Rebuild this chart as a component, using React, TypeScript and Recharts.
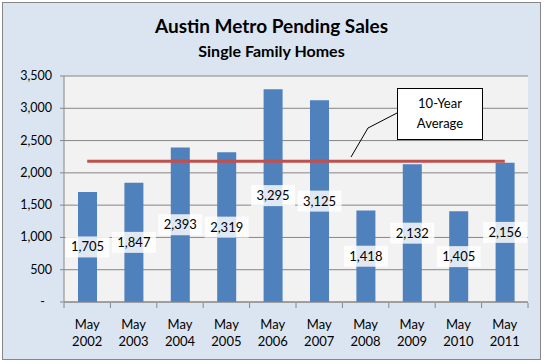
import React from "react"
import { BarChart, Bar, XAxis, YAxis, CartesianGrid, ReferenceLine, LabelList } from "recharts"

const months = ["May 2002", "May 2003", "May 2004", "May 2005", "May 2006", "May 2007", "May 2008", "May 2009", "May 2010", "May 2011"]
const pendingSales = [1705, 1847, 2393, 2319, 3295, 3125, 1418, 2132, 1405, 2156]
const yTicks = [0, 500, 1000, 1500, 2000, 2500, 3000, 3500]

const data = months.map((month, i) => ({ month, sales: pendingSales[i] }))
const average = pendingSales.reduce((a, b) => a + b, 0) / pendingSales.length

const FONT = "Lato, 'Open Sans', sans-serif"
const GRID = "#868686"

function XTick(props: any) {
  const { x, y, payload, index, width, visibleTicksCount } = props
  const [m, yr] = String(payload.value).split(" ")
  const step = width / visibleTicksCount
  const axisY = y - 7
  return (
    <g>
      <line x1={x - step / 2} x2={x - step / 2} y1={axisY} y2={axisY + 5} stroke={GRID} />
      {index === visibleTicksCount - 1 && (
        <line x1={x + step / 2} x2={x + step / 2} y1={axisY} y2={axisY + 5} stroke={GRID} />
      )}
      <text x={x} y={axisY + 26} textAnchor="middle" fontSize={13} fontFamily={FONT} fill="#000">{m}</text>
      <text x={x} y={axisY + 43} textAnchor="middle" fontSize={13} fontFamily={FONT} fill="#000">{yr}</text>
    </g>
  )
}

function YTick(props: any) {
  const { x, y, payload } = props
  const v = payload.value as number
  if (v === 0) {
    return <text x={x - 7} y={y + 4} textAnchor="end" fontSize={12.5} fontFamily={FONT} fill="#000">-</text>
  }
  return (
    <text x={x} y={y + 4} textAnchor="end" fontSize={12.5} fontFamily={FONT} fill="#000">
      {v.toLocaleString("en-US")}
    </text>
  )
}

function ValueLabel(props: any) {
  const { x, y, width, height, value } = props
  const cx = x + width / 2
  const cy = y + height / 2
  return (
    <g>
      <rect x={cx - 22} y={cy - 10.5} width={44} height={21} fill="#fff" fillOpacity={0.82} />
      <text x={cx} y={cy + 4.5} textAnchor="middle" fontSize={13} fontFamily={FONT} fill="#000">
        {Number(value).toLocaleString("en-US")}
      </text>
    </g>
  )
}

function AvgLine(props: any) {
  const { x1, x2, y1 } = props
  const half = (x2 - x1) / months.length / 2
  return <line x1={x1 + half} x2={x2 - half} y1={y1} y2={y1} stroke="#c0504d" strokeWidth={3} />
}

export default function App() {
  return (
    <div style={{ position: "absolute", left: 0, top: 0, width: 545, height: 364, background: "#fff", fontFamily: FONT }}>
      <div
        style={{
          position: "absolute",
          left: 2,
          top: 2,
          width: 537,
          height: 356,
          border: "1px solid #868686",
          background: "#dbe5f1",
        }}
      />
      <div style={{ position: "absolute", left: 0, top: 14, width: 543, textAlign: "center", fontWeight: 700, fontSize: 19, color: "#000" }}>
        Austin Metro Pending Sales
      </div>
      <div style={{ position: "absolute", left: 0, top: 41, width: 543, textAlign: "center", fontWeight: 700, fontSize: 16, color: "#000" }}>
        Single Family Homes
      </div>
      <div style={{ position: "absolute", left: 0, top: 0 }}>
        <BarChart width={545} height={364} data={data} margin={{ top: 76, right: 17, bottom: 0, left: 0 }} barCategoryGap="29%">
          <CartesianGrid vertical={false} stroke={GRID} fill="#f2f2f2" />
          <XAxis
            dataKey="month"
            height={62}
            interval={0}
            tickLine={false}
            axisLine={{ stroke: GRID }}
            tick={<XTick />}
          />
          <YAxis
            width={64}
            domain={[0, 3500]}
            ticks={yTicks}
            interval={0}
            tickSize={4}
            tickMargin={8}
            tickLine={{ stroke: GRID }}
            axisLine={{ stroke: GRID }}
            tick={<YTick />}
          />
          <Bar dataKey="sales" fill="#4f81bd" barSize={19} isAnimationActive={false}>
            <LabelList dataKey="sales" content={<ValueLabel />} />
          </Bar>
          <ReferenceLine y={average} shape={<AvgLine />} />
        </BarChart>
      </div>
      <svg style={{ position: "absolute", left: 0, top: 0 }} width={545} height={364}>
        <polyline points="397,113 368,128 351,157" fill="none" stroke="#000" strokeWidth={1} />
        <rect x={397.5} y={88.5} width={85} height={51} fill="#fff" stroke="#000" strokeWidth={1} />
        <text x={440} y={108} textAnchor="middle" fontSize={13} fontFamily={FONT} fill="#000">10-Year</text>
        <text x={440} y={128} textAnchor="middle" fontSize={13} fontFamily={FONT} fill="#000">Average</text>
      </svg>
    </div>
  )
}
